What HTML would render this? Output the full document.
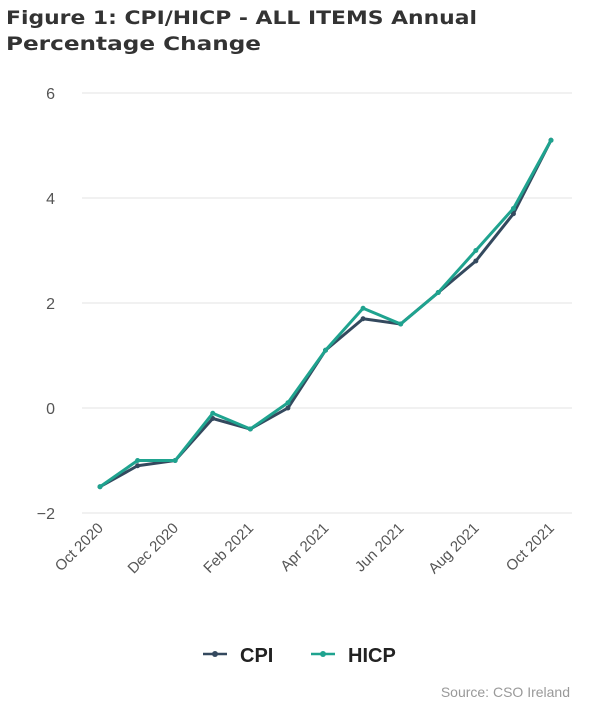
<!DOCTYPE html>
<html><head><meta charset="utf-8"><style>
body{margin:0;background:#fff;width:614px;height:713px;overflow:hidden;font-family:"Liberation Sans",sans-serif;}
</style></head><body>
<svg width="614" height="713">
<text x="6" y="24" font-size="19" font-weight="bold" fill="#333" font-family="DejaVu Sans, sans-serif" textLength="471" lengthAdjust="spacingAndGlyphs">Figure 1: CPI/HICP - ALL ITEMS Annual</text>
<text x="6" y="50" font-size="19" font-weight="bold" fill="#333" font-family="DejaVu Sans, sans-serif" textLength="255" lengthAdjust="spacingAndGlyphs">Percentage Change</text>
<g id="grid"></g><g id="xl"></g><g id="lines"></g>
<g>
<g><line x1="203" y1="654" x2="227" y2="654" stroke="#34495e" stroke-width="2.5"/><circle cx="215" cy="654" r="3" fill="#34495e"/><text x="240" y="662" font-size="20" font-weight="bold" fill="#222">CPI</text></g>
<g><line x1="311" y1="654" x2="335" y2="654" stroke="#1fa38f" stroke-width="2.5"/><circle cx="323" cy="654" r="3" fill="#1fa38f"/><text x="348" y="662" font-size="20" font-weight="bold" fill="#222">HICP</text></g>
</g>
<text x="570" y="697" font-size="14" fill="#999" text-anchor="end">Source: CSO Ireland</text>
</svg>
<script>
const months=["Oct 2020","Nov 2020","Dec 2020","Jan 2021","Feb 2021","Mar 2021","Apr 2021","May 2021","Jun 2021","Jul 2021","Aug 2021","Sep 2021","Oct 2021"];
const cpi=[-1.5,-1.1,-1.0,-0.2,-0.4,0.0,1.1,1.7,1.6,2.2,2.8,3.7,5.1];
const hicp=[-1.5,-1.0,-1.0,-0.1,-0.4,0.1,1.1,1.9,1.6,2.2,3.0,3.8,5.1];
const yTicks=[-2,0,2,4,6];
const NS="http://www.w3.org/2000/svg";
function x(i){return 100+i*(451/12);}
function y(v){return 408-v*52.5;}
function mk(t,a,p){const e=document.createElementNS(NS,t);for(const k in a)e.setAttribute(k,a[k]);p.appendChild(e);return e;}
const grid=document.getElementById('grid');
yTicks.forEach(v=>{
 const l=mk('line',{x1:82,x2:572,y1:y(v),y2:y(v),stroke:'#e3e3e3','stroke-width':1},grid);
 
 
 const t=mk('text',{x:55,y:y(v)+6,'font-size':16,fill:'#555','text-anchor':'end'},grid);
 t.textContent=v<0?'\u2212'+(-v):String(v);
 
 
});
const xl=document.getElementById('xl');
months.forEach((m,i)=>{
 if(i%2)return;
 const t=mk('text',{x:x(i)+4,y:529,'font-size':15,fill:'#555','text-anchor':'end',transform:`rotate(-45 ${x(i)+4} 529)`},xl);
 t.textContent=m;
 
 
});
const lines=document.getElementById('lines');
function series(d,c,n){
 const p=mk('polyline',{points:d.map((v,i)=>x(i)+','+y(v)).join(' '),fill:'none',stroke:c,'stroke-width':3,'stroke-linejoin':'round'},lines);
 
 
 d.forEach((v,i)=>{
  const pt=mk('circle',{cx:x(i),cy:y(v),r:2.5,fill:c},lines);
  
  
 });
}
series(cpi,'#34495e','cpi');
series(hicp,'#1fa38f','hicp');
</script>
</body></html>
